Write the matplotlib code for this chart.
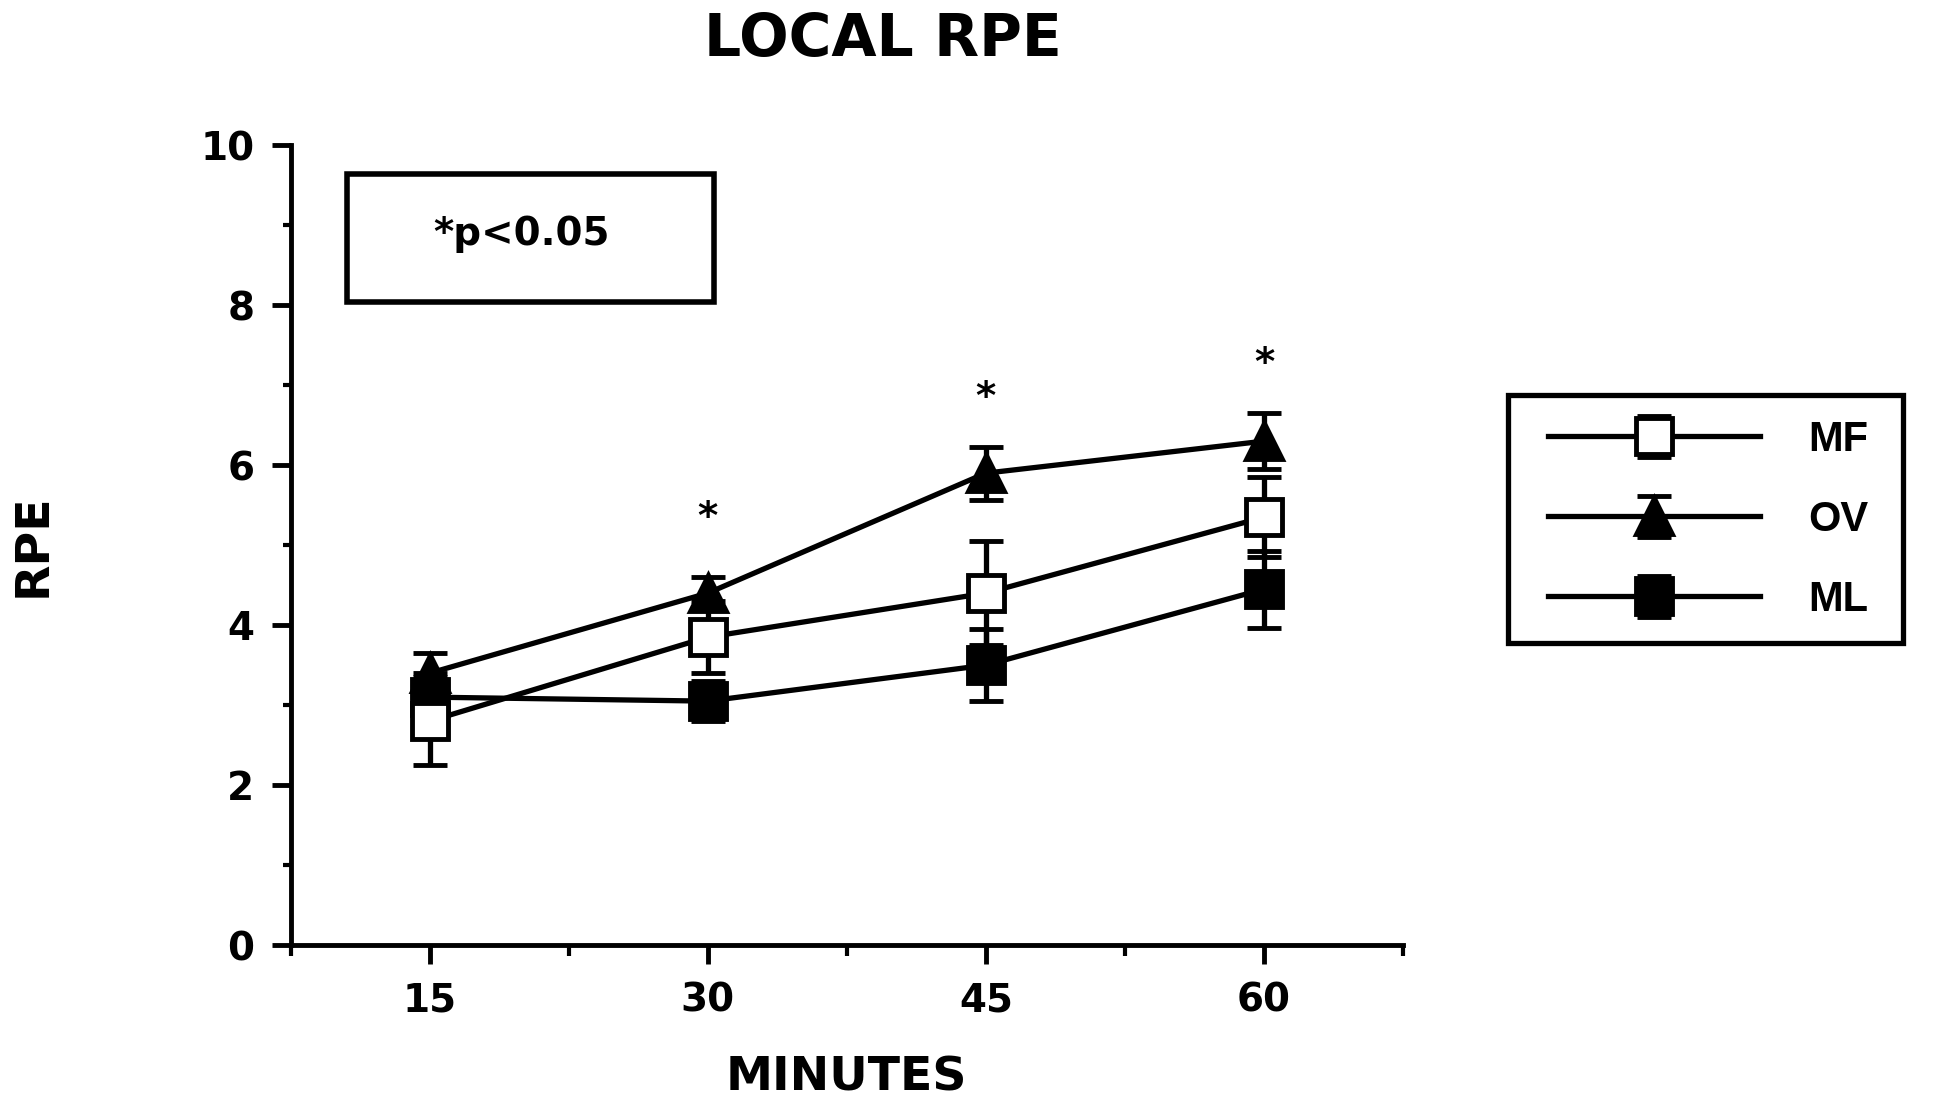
import matplotlib
matplotlib.use('Agg')
import matplotlib.pyplot as plt
from matplotlib.patches import Rectangle
from matplotlib.ticker import MultipleLocator

minutes = [15, 30, 45, 60]

mf = [2.8, 3.85, 4.4, 5.35]
mf_err = [0.55, 0.45, 0.65, 0.5]
ov = [3.4, 4.4, 5.9, 6.3]
ov_err = [0.25, 0.2, 0.33, 0.35]
ml = [3.1, 3.05, 3.5, 4.45]
ml_err = [0.3, 0.25, 0.45, 0.48]

sig_x = [30, 45, 60]
sig_y = [5.5, 7.0, 7.43]

plt.rcParams['font.family'] = 'DejaVu Sans'
plt.rcParams['font.weight'] = 'bold'

fig = plt.figure(figsize=(19.5, 11.08), dpi=100)
ax = fig.add_axes([0.149, 0.147, 0.5705, 0.722])

common = dict(color='black', lw=3.8, ms=26, mew=3.5, capsize=12, elinewidth=3.8, capthick=4.5)
ax.errorbar(minutes, ml, yerr=ml_err, marker='s', mfc='black', label='ML', zorder=3, **common)
ax.errorbar(minutes, ov, yerr=ov_err, marker='^', mfc='black', label='OV', zorder=4, **common)
ax.errorbar(minutes, mf, yerr=mf_err, marker='s', mfc='white', label='MF', zorder=5, **common)

# significance stars
for x, y in zip(sig_x, sig_y):
    ax.text(x, y - 0.3, '*', ha='center', va='baseline', fontsize=28, fontweight='bold')

ax.set_xlim(7.5, 67.5)
ax.set_ylim(0, 10)
ax.set_xticks(minutes)
ax.xaxis.set_minor_locator(MultipleLocator(7.5))
ax.yaxis.set_major_locator(MultipleLocator(2))
ax.yaxis.set_minor_locator(MultipleLocator(1))

for s in ['top', 'right']:
    ax.spines[s].set_visible(False)
for s in ['left', 'bottom']:
    ax.spines[s].set_linewidth(3.5)

ax.tick_params(which='major', direction='out', length=14, width=3.5, labelsize=28, pad=12)
ax.tick_params(which='minor', direction='out', length=6, width=3)
ax.tick_params(axis='x', which='minor', length=8)

ax.set_xlabel('MINUTES', fontsize=34, fontweight='bold', labelpad=26)
ax.set_ylabel('RPE', fontsize=34, fontweight='bold', labelpad=104)
fig.text(0.453, 0.964, 'LOCAL RPE', ha='center', va='center', fontsize=42, fontweight='bold')

# p-value box
ax.add_patch(Rectangle((0.051, 0.804), 0.33, 0.16, transform=ax.transAxes,
                       fill=False, lw=4, ec='black', clip_on=False))
ax.text(0.208, 0.889, '*p<0.05', transform=ax.transAxes, ha='center', va='center',
        fontsize=28, fontweight='bold')

# legend with its own box
fig.patches.append(Rectangle((0.7733, 0.4197), 0.2026, 0.2238, transform=fig.transFigure,
                             fill=False, lw=3.8, ec='black'))
handles, labels = ax.get_legend_handles_labels()
order = [2, 1, 0]
leg = fig.legend([handles[i] for i in order], [labels[i] for i in order],
                 loc='upper left', bbox_to_anchor=(0.7938, 0.621), borderaxespad=0,
                 frameon=False, handlelength=5.08, handletextpad=1.17,
                 labelspacing=0.96, borderpad=0,
                 prop={'family': ['Liberation Sans Narrow', 'Liberation Sans'],
                       'weight': 'bold', 'size': 30})

fig.savefig('out.png', dpi=100)
